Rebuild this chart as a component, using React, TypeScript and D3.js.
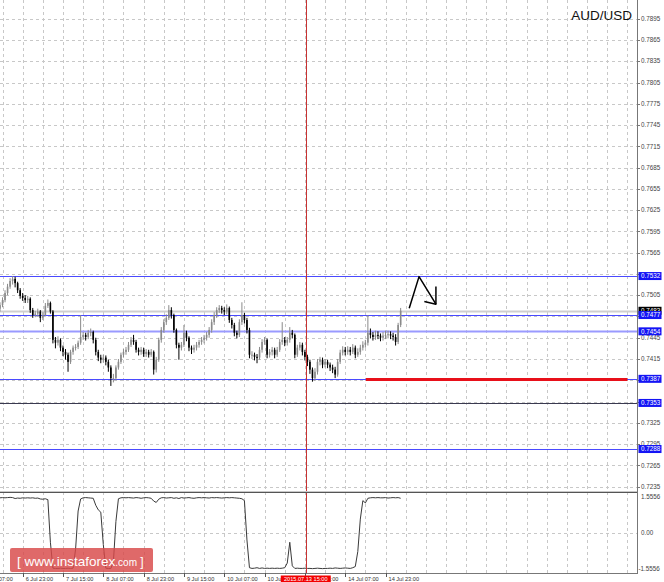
import React from "react";
import * as d3 from "d3";

// ---- data (H1 AUD/USD, bar index 0 = 6 Jul 14:00) ----
const opens = [
0.7486,0.7491,0.7498,0.7508,0.7517,0.7525,0.7528,0.7522,0.7512,0.7504,
0.7501,0.7498,0.7500,0.7484,0.7477,0.7479,0.7482,0.7473,0.7477,0.7490,
0.7494,0.7482,0.7442,0.7438,0.7442,0.7431,0.7425,0.7421,0.7411,0.7425,
0.7431,0.7432,0.7438,0.7446,0.7449,0.7446,0.7452,0.7453,0.7442,0.7425,
0.7417,0.7414,0.7417,0.7411,0.7403,0.7388,0.7388,0.7403,0.7411,0.7421,
0.7425,0.7428,0.7435,0.7442,0.7439,0.7428,0.7425,0.7428,0.7422,0.7425,
0.7421,0.7425,0.7400,0.7414,0.7442,0.7456,0.7467,0.7473,0.7484,0.7477,
0.7456,0.7435,0.7431,0.7435,0.7452,0.7445,0.7431,0.7428,0.7431,0.7435,
0.7439,0.7442,0.7445,0.7449,0.7456,0.7467,0.7477,0.7484,0.7487,0.7484,
0.7482,0.7487,0.7470,0.7463,0.7452,0.7449,0.7467,0.7477,0.7470,0.7456,
0.7421,0.7421,0.7418,0.7417,0.7428,0.7439,0.7442,0.7421,0.7425,0.7428,
0.7421,0.7428,0.7439,0.7442,0.7438,0.7442,0.7452,0.7449,0.7421,0.7431,
0.7435,0.7425,0.7418,0.7411,0.7400,0.7388,0.7397,0.7411,0.7414,0.7407,
0.7411,0.7407,0.7403,0.7400,0.7393,0.7411,0.7424,0.7428,0.7425,0.7428,
0.7425,0.7431,0.7421,0.7425,0.7431,0.7435,0.7438,0.7452,0.7449,0.7446,
0.7449,0.7448,0.7445,0.7448,0.7449,0.7450,0.7448,0.7446,0.7439,0.7463
];
const closes = [
0.7491,0.7498,0.7508,0.7517,0.7525,0.7528,0.7522,0.7512,0.7504,0.7501,
0.7498,0.7500,0.7484,0.7477,0.7479,0.7482,0.7473,0.7477,0.7490,0.7494,
0.7482,0.7442,0.7438,0.7442,0.7431,0.7425,0.7421,0.7411,0.7425,0.7431,
0.7432,0.7438,0.7446,0.7449,0.7446,0.7452,0.7453,0.7442,0.7425,0.7417,
0.7414,0.7417,0.7411,0.7403,0.7388,0.7388,0.7403,0.7411,0.7421,0.7425,
0.7428,0.7435,0.7442,0.7439,0.7428,0.7425,0.7428,0.7422,0.7425,0.7421,
0.7425,0.7400,0.7414,0.7442,0.7456,0.7467,0.7473,0.7484,0.7477,0.7456,
0.7435,0.7431,0.7435,0.7452,0.7445,0.7431,0.7428,0.7431,0.7435,0.7439,
0.7442,0.7445,0.7449,0.7456,0.7467,0.7477,0.7484,0.7487,0.7484,0.7482,
0.7487,0.7470,0.7463,0.7452,0.7449,0.7467,0.7477,0.7470,0.7456,0.7421,
0.7421,0.7418,0.7417,0.7428,0.7439,0.7442,0.7421,0.7425,0.7428,0.7421,
0.7428,0.7439,0.7442,0.7438,0.7442,0.7452,0.7449,0.7421,0.7431,0.7435,
0.7425,0.7418,0.7411,0.7400,0.7388,0.7397,0.7411,0.7414,0.7407,0.7411,
0.7407,0.7403,0.7400,0.7393,0.7411,0.7424,0.7428,0.7425,0.7428,0.7425,
0.7431,0.7421,0.7425,0.7431,0.7435,0.7438,0.7452,0.7449,0.7446,0.7449,
0.7448,0.7445,0.7448,0.7449,0.7450,0.7448,0.7446,0.7439,0.7463,0.7483
];
const highs = [
0.7495,0.7502,0.7512,0.7521,0.7529,0.7532,0.7531,0.7524,0.7515,0.7508,
0.7505,0.7504,0.7502,0.7487,0.7483,0.7486,0.7484,0.7481,0.7494,0.7499,
0.7496,0.7484,0.7446,0.7447,0.7444,0.7434,0.7429,0.7424,0.7428,0.7434,
0.7436,0.7441,0.7477,0.7453,0.7452,0.7456,0.7458,0.7455,0.7445,0.7428,
0.7421,0.7421,0.7420,0.7414,0.7406,0.7394,0.7406,0.7415,0.7424,0.7429,
0.7432,0.7439,0.7446,0.7449,0.7442,0.7431,0.7432,0.7431,0.7429,0.7428,
0.7429,0.7427,0.7418,0.7445,0.7460,0.7471,0.7478,0.7491,0.7488,0.7479,
0.7458,0.7438,0.7439,0.7463,0.7455,0.7447,0.7434,0.7435,0.7439,0.7442,
0.7446,0.7449,0.7453,0.7460,0.7471,0.7481,0.7488,0.7491,0.7490,0.7488,
0.7492,0.7489,0.7473,0.7466,0.7455,0.7471,0.7495,0.7480,0.7473,0.7459,
0.7426,0.7424,0.7422,0.7432,0.7443,0.7446,0.7444,0.7429,0.7432,0.7431,
0.7432,0.7443,0.7467,0.7446,0.7446,0.7460,0.7456,0.7451,0.7435,0.7439,
0.7438,0.7428,0.7421,0.7414,0.7403,0.7402,0.7415,0.7418,0.7417,0.7415,
0.7414,0.7410,0.7407,0.7404,0.7415,0.7428,0.7433,0.7432,0.7433,0.7432,
0.7436,0.7434,0.7430,0.7435,0.7440,0.7442,0.7477,0.7458,0.7453,0.7455,
0.7454,0.7451,0.7453,0.7455,0.7455,0.7454,0.7452,0.7450,0.7466,0.7487
];
const lows = [
0.7482,0.7488,0.7495,0.7505,0.7514,0.7520,0.7516,0.7508,0.7500,0.7497,
0.7494,0.7494,0.7480,0.7473,0.7474,0.7475,0.7467,0.7470,0.7475,0.7487,
0.7479,0.7437,0.7430,0.7434,0.7426,0.7419,0.7414,0.7397,0.7408,0.7421,
0.7427,0.7429,0.7435,0.7442,0.7441,0.7443,0.7447,0.7437,0.7420,0.7412,
0.7409,0.7410,0.7406,0.7397,0.7377,0.7382,0.7385,0.7400,0.7408,0.7417,
0.7421,0.7425,0.7432,0.7435,0.7424,0.7420,0.7421,0.7418,0.7418,0.7417,
0.7418,0.7393,0.7396,0.7411,0.7438,0.7452,0.7463,0.7470,0.7472,0.7452,
0.7430,0.7414,0.7427,0.7432,0.7440,0.7426,0.7422,0.7424,0.7427,0.7431,
0.7435,0.7437,0.7441,0.7445,0.7452,0.7463,0.7473,0.7480,0.7479,0.7477,
0.7478,0.7466,0.7458,0.7447,0.7444,0.7446,0.7463,0.7465,0.7451,0.7416,
0.7415,0.7413,0.7409,0.7414,0.7424,0.7435,0.7416,0.7417,0.7420,0.7416,
0.7418,0.7425,0.7435,0.7433,0.7434,0.7438,0.7444,0.7416,0.7418,0.7427,
0.7420,0.7413,0.7405,0.7394,0.7383,0.7384,0.7393,0.7406,0.7402,0.7403,
0.7402,0.7398,0.7395,0.7388,0.7390,0.7408,0.7420,0.7420,0.7421,0.7420,
0.7422,0.7416,0.7418,0.7421,0.7427,0.7431,0.7434,0.7444,0.7441,0.7442,
0.7443,0.7440,0.7441,0.7443,0.7444,0.7443,0.7441,0.7434,0.7436,0.7460
];
const oscillator = [
1.52,1.53,1.52,1.53,1.54,1.53,1.49,1.51,1.50,1.52,
1.51,1.52,1.51,1.52,1.50,1.51,1.47,1.46,1.48,1.44,
-0.40,-1.52,-1.53,-1.53,-1.52,-1.53,-1.53,-1.52,-1.53,-1.52,
-0.70,0.95,1.47,1.52,1.53,1.52,1.51,1.50,1.20,1.00,
0.90,-0.50,-1.52,-1.53,-1.53,-1.25,0.50,1.48,1.52,1.53,
1.52,1.53,1.52,1.51,1.53,1.52,1.50,1.52,1.53,1.52,
1.50,1.38,1.32,1.46,1.52,1.53,1.51,1.52,1.53,1.50,
1.52,1.49,1.53,1.51,1.52,1.53,1.51,1.50,1.52,1.53,
1.52,1.53,1.52,1.51,1.53,1.52,1.53,1.52,1.51,1.52,
1.53,1.52,1.53,1.52,1.51,1.50,1.48,1.40,-0.30,-1.50,
-1.53,-1.52,-1.50,-1.53,-1.51,-1.53,-1.52,-1.53,-1.52,-1.53,
-1.52,-1.53,-1.52,-1.50,-1.30,-0.40,-1.42,-1.53,-1.52,-1.53,
-1.53,-1.52,-1.53,-1.53,-1.54,-1.53,-1.52,-1.53,-1.54,-1.53,
-1.53,-1.52,-1.53,-1.51,-1.52,-1.53,-1.52,-1.51,-1.52,-1.53,
-1.50,-1.45,-0.80,0.60,1.40,1.30,1.50,1.52,1.53,1.52,
1.53,1.52,1.52,1.53,1.51,1.52,1.53,1.52,1.53,1.50
];

const priceTicks = d3.range(0, 23).map((k) => 0.7235 + 0.003 * k);
const oscTicks = [1.5556, 0, -1.5556];
const oscTickLabels = ["1.5556", "0.00", "-1.5556"];
const timeLabelBars = [-7, 9, 25, 41, 57, 73, 89, 105, 121, 137, 153];
const timeLabels = ["6 Jul 07:00", "6 Jul 23:00", "7 Jul 15:00", "8 Jul 07:00", "8 Jul 23:00", "9 Jul 15:00", "10 Jul 07:00", "10 Jul 23:00", "13 Jul 15:00", "14 Jul 07:00", "14 Jul 23:00"];
const levels = [0.7532, 0.7483, 0.7477, 0.7454, 0.7387, 0.7353, 0.7288];
const redLevel = 0.7387;
const redSegmentBars = [145.2, 249];
const crosshairBar = 121.35;
const crosshairLabel = "2015.07.13 15:00";
const arrowPath: [number, number][] = [[162.4, 0.74867], [166.3, 0.75312], [173.0, 0.74923]];
const arrowHead: [number, number][] = [[168.4, 0.7496], [173.0, 0.74923], [173.0, 0.75172]];
const title = "AUD/USD";

// ---- styles ----
const levelStyle = [
  { stroke: "#4a4aff", width: 1, box: "#1414f5" },
  { stroke: "#cfcfcf", width: 2, box: "#000000" },
  { stroke: "#4a4aff", width: 1, box: "#1414f5" },
  { stroke: "#9a9aff", width: 2, box: "#1414f5" },
  { stroke: "#4a4aff", width: 1, box: "#1414f5" },
  { stroke: "#3a3a50", width: 1, box: "#1414f5" },
  { stroke: "#4a4aff", width: 1, box: "#1414f5" },
];

const W = 664;
const H = 582;
const RIGHT = 637;
const MAIN_BOTTOM = 491;
const IND_BOTTOM = 573;
const FONT = "'Liberation Sans', Arial, sans-serif";

export default function App() {
  const x = d3.scaleLinear().domain([0, 252.8]).range([0, RIGHT]);
  const y = d3.scaleLinear().domain([0.7235, 0.7895]).range([486.6, 18.7]);
  const yi = d3.scaleLinear().domain([-1.5556, 1.5556]).range([569, 497]);

  const vGrid = d3.range(1, 253, 8);
  const line = d3.line<[number, number]>().x((d) => x(d[0])).y((d) => y(d[1]));
  const oscLine = d3.line<number>().x((_, i) => x(i)).y((d) => yi(d));

  // tick labels fully hidden behind a level label are not drawn
  const visibleTicks = priceTicks.filter((t) => levels.every((l) => Math.abs(y(t) - y(l)) > 3.5));

  return (
    <svg width={W} height={H} style={{ position: "absolute", left: 0, top: 0, background: "#fff" }} fontFamily={FONT}>
      <defs>
        <clipPath id="mainClip"><rect x={0} y={0} width={RIGHT} height={MAIN_BOTTOM} /></clipPath>
        <clipPath id="indClip"><rect x={0} y={MAIN_BOTTOM + 1} width={RIGHT} height={IND_BOTTOM - MAIN_BOTTOM - 1} /></clipPath>
      </defs>
      <rect x={0} y={0} width={W} height={H} fill="#fff" />

      {/* grid */}
      <g stroke="#c8c8c8" strokeWidth={1} strokeDasharray="3,3">
        {priceTicks.map((t, i) => (
          <line key={"h" + i} x1={0} x2={RIGHT} y1={Math.round(y(t)) + 0.5} y2={Math.round(y(t)) + 0.5} />
        ))}
        {vGrid.map((b) => (
          <line key={"v" + b} x1={Math.round(x(b)) + 0.5} x2={Math.round(x(b)) + 0.5} y1={0} y2={IND_BOTTOM} />
        ))}
        <line x1={0} x2={RIGHT} y1={Math.round(yi(0)) + 0.5} y2={Math.round(yi(0)) + 0.5} />
      </g>

      {/* level lines */}
      <g clipPath="url(#mainClip)">
        {levels.map((l, k) => (
          <line key={"lv" + k} x1={0} x2={RIGHT} y1={Math.round(y(l)) + 0.5} y2={Math.round(y(l)) + 0.5}
            stroke={levelStyle[k].stroke} strokeWidth={levelStyle[k].width} />
        ))}
        <line x1={x(redSegmentBars[0])} x2={x(redSegmentBars[1])} y1={Math.round(y(redLevel)) + 0.5} y2={Math.round(y(redLevel)) + 0.5}
          stroke="#e8101a" strokeWidth={3} />
      </g>

      {/* candles */}
      <g clipPath="url(#mainClip)">
        {closes.map((c, i) => {
          const o = opens[i];
          const up = c >= o;
          const col = up ? "#8a8a8a" : "#000";
          const cx = x(i);
          const top = y(Math.max(o, c));
          const h = Math.max(1, Math.abs(y(o) - y(c)));
          return (
            <g key={"c" + i}>
              <line x1={cx} x2={cx} y1={y(highs[i])} y2={y(lows[i])} stroke={col} strokeWidth={1} />
              <rect x={cx - 0.8} y={top} width={1.6} height={h} fill={col} />
            </g>
          );
        })}
      </g>

      {/* arrow annotation */}
      <path d={line(arrowPath) || ""} fill="none" stroke="#000" strokeWidth={1.5} strokeLinejoin="round" />
      <path d={line(arrowHead) || ""} fill="none" stroke="#000" strokeWidth={1.5} strokeLinejoin="round" />

      {/* oscillator */}
      <g clipPath="url(#indClip)">
        <path d={oscLine(oscillator) || ""} fill="none" stroke="#3a3a3a" strokeWidth={1} />
      </g>

      {/* crosshair */}
      <line x1={Math.round(x(crosshairBar)) + 0.5} x2={Math.round(x(crosshairBar)) + 0.5} y1={0} y2={IND_BOTTOM} stroke="#c83232" strokeWidth={1} />

      {/* frames */}
      <line x1={0} x2={RIGHT} y1={MAIN_BOTTOM + 0.5} y2={MAIN_BOTTOM + 0.5} stroke="#c8c8c8" strokeWidth={1} />
      <line x1={0} x2={RIGHT + 1} y1={MAIN_BOTTOM + 1.5} y2={MAIN_BOTTOM + 1.5} stroke="#555" strokeWidth={1.2} />
      <line x1={RIGHT + 0.5} x2={RIGHT + 0.5} y1={0} y2={IND_BOTTOM + 1} stroke="#777" strokeWidth={1} />
      <line x1={0} x2={RIGHT + 1} y1={IND_BOTTOM + 0.5} y2={IND_BOTTOM + 0.5} stroke="#777" strokeWidth={1} />

      {/* price axis labels */}
      <g fontSize={6.3} fill="#444">
        {priceTicks.map((t, i) => (
          <line key={"ptk" + i} x1={RIGHT} x2={RIGHT + 3} y1={Math.round(y(t)) + 0.5} y2={Math.round(y(t)) + 0.5} stroke="#777" />
        ))}
        {visibleTicks.map((t, i) => (
          <text key={"pt" + i} x={RIGHT + 4} y={y(t)} dy="0.35em">{t.toFixed(4)}</text>
        ))}
        {oscTicks.map((t, i) => (
          <text key={"ot" + i} x={oscTickLabels[i].startsWith("-") ? RIGHT + 1.5 : RIGHT + 4} y={yi(t)} dy="0.35em">{oscTickLabels[i]}</text>
        ))}
      </g>

      {/* level labels */}
      <g fontSize={6.3} fill="#fff">
        {levels.map((l, k) => (
          <g key={"ll" + k}>
            <rect x={RIGHT + 1.5} y={y(l) - 4} width={23} height={8} fill={levelStyle[k].box} />
            <text x={RIGHT + 4} y={y(l)} dy="0.35em">{l.toFixed(4)}</text>
          </g>
        ))}
      </g>

      {/* time axis */}
      <g fontSize={5.6} fill="#333">
        {timeLabelBars.map((b, i) => (
          <g key={"tl" + i}>
            <line x1={Math.round(x(b)) + 0.5} x2={Math.round(x(b)) + 0.5} y1={IND_BOTTOM} y2={IND_BOTTOM + 4} stroke="#555" />
            <text x={x(b) + 3} y={580.5}>{timeLabels[i]}</text>
          </g>
        ))}
      </g>
      <rect x={x(crosshairBar) - 25} y={575.5} width={50} height={7} fill="#f20000" />
      <text x={x(crosshairBar)} y={581} fontSize={5.6} fill="#fff" textAnchor="middle">{crosshairLabel}</text>

      {/* title */}
      <text x={632} y={20} fontSize={13.5} fill="#111" textAnchor="end">{title}</text>

      {/* watermark */}
      <g>
        <rect x={10} y={548} width={143} height={24} rx={2} fill="#d84848" opacity={0.82} />
        <text x={17} y={566} fill="#fff" fontSize={13.5}>
          <tspan>[ </tspan>
          <tspan>www.instaforex</tspan>
          <tspan fontSize={10}>.com</tspan>
          <tspan fontSize={12}> ]</tspan>
        </text>
      </g>
    </svg>
  );
}
